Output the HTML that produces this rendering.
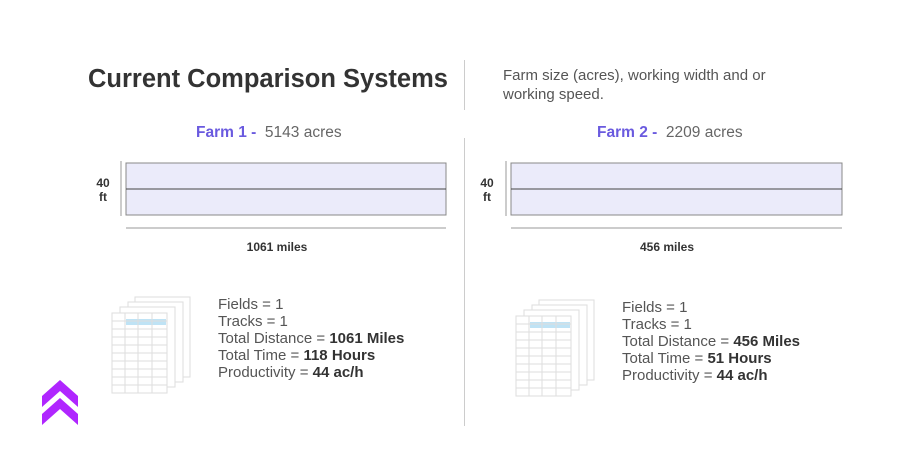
<!DOCTYPE html><html><head><style>
body{margin:0;width:905px;height:470px;background:#fff;font-family:"Liberation Sans",sans-serif;position:relative;overflow:hidden}
.a{position:absolute;white-space:nowrap}
.t{font-size:15px;color:#555;line-height:17px}
.t b{color:#333}
</style></head><body>
<div class="a" style="left:88px;top:65px;font-size:25.5px;font-weight:bold;color:#333">Current Comparison Systems</div>
<div class="a" style="left:464px;top:60px;width:1px;height:50px;background:#ccc"></div>
<div class="a" style="left:503px;top:66px;font-size:15px;color:#555;line-height:19px">Farm size (acres), working width and or<br>working speed.</div>
<div class="a" style="left:464px;top:138px;width:1px;height:288px;background:#ccc"></div>
<div class="a" style="left:196px;top:124px;font-size:15.5px;color:#666"><b style="color:#6a5adf">Farm 1 -</b>&nbsp; 5143 acres</div>
<div class="a" style="left:597px;top:124px;font-size:15.5px;color:#666"><b style="color:#6a5adf">Farm 2 -</b>&nbsp; 2209 acres</div>
<svg class="a" style="left:0;top:0" width="905" height="470">
<g stroke="#888" fill="#ebebfa">
<rect x="126" y="163" width="320" height="52"/><rect x="511" y="163" width="331" height="52"/></g>
<g stroke="#444"><line x1="126" y1="189" x2="446" y2="189"/><line x1="511" y1="189" x2="842" y2="189"/></g>
<g stroke="#999" stroke-width="1">
<line x1="121" y1="161" x2="121" y2="216"/><line x1="506" y1="161" x2="506" y2="216"/>
<line x1="126" y1="228" x2="446" y2="228"/><line x1="511" y1="228" x2="842" y2="228"/></g>
<g font-family="Liberation Sans" font-weight="bold" font-size="12" fill="#333" text-anchor="middle">
<text x="103" y="187">40</text><text x="103" y="201">ft</text>
<text x="487" y="187">40</text><text x="487" y="201">ft</text>
<text x="277" y="251">1061 miles</text><text x="667" y="251">456 miles</text></g>
<g id="d" stroke="#ddd" fill="#fff">
<rect x="135" y="297" width="55" height="80"/><rect x="128" y="302" width="55" height="80"/>
<rect x="120" y="307" width="55" height="80"/><rect x="112" y="313" width="55" height="80" />
<rect x="126" y="319" width="40" height="6" fill="#bfe3f5" stroke="none"/>
<path d="M112 321H167M112 329H167M112 337H167M112 345H167M112 353H167M112 361H167M112 369H167M112 377H167M112 385H167M125 313V393M138 313V393M152 313V393"/>
</g>
<use href="#d" x="404" y="3"/>
<g fill="#b026ff"><path d="M42 396L60 380L78 396V407L60 391L42 407Z"/><path d="M42 414L60 398L78 414V425L60 409L42 425Z"/></g>
</svg>
<div class="a t" style="left:218px;top:296px">Fields = 1<br>Tracks = 1<br>Total Distance = <b>1061 Miles</b><br>Total Time = <b>118 Hours</b><br>Productivity = <b>44 ac/h</b></div>
<div class="a t" style="left:622px;top:299px">Fields = 1<br>Tracks = 1<br>Total Distance = <b>456 Miles</b><br>Total Time = <b>51 Hours</b><br>Productivity = <b>44 ac/h</b></div>
</body></html>
